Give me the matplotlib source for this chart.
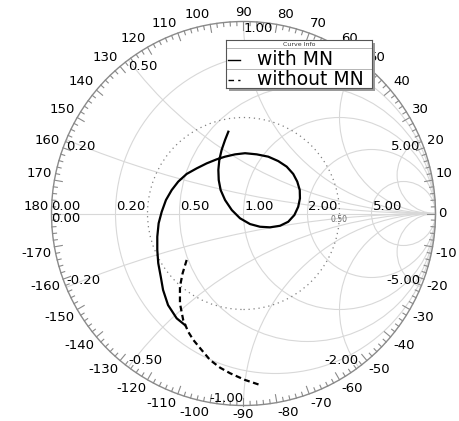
import numpy as np
import matplotlib.pyplot as plt
from matplotlib.patches import Circle, Rectangle

# reflection coefficient traces (real / imaginary part of Gamma)
with_mn_re = [-0.079, -0.096, -0.114, -0.126, -0.131, -0.129, -0.119, -0.096, -0.061, -0.018,
              0.034, 0.086, 0.138, 0.190, 0.233, 0.265, 0.285, 0.294, 0.293, 0.280,
              0.259, 0.225, 0.181, 0.129, 0.069, 0.008, -0.044, -0.096, -0.140, -0.192,
              -0.244, -0.296, -0.340, -0.374, -0.404, -0.426, -0.442, -0.449, -0.449, -0.444,
              -0.431, -0.419, -0.393, -0.348, -0.305]
with_mn_im = [0.426, 0.383, 0.331, 0.279, 0.227, 0.174, 0.122, 0.070, 0.018, -0.025,
              -0.055, -0.069, -0.072, -0.064, -0.043, -0.008, 0.035, 0.079, 0.122, 0.166,
              0.206, 0.244, 0.273, 0.296, 0.308, 0.314, 0.308, 0.296, 0.282, 0.261,
              0.235, 0.206, 0.166, 0.122, 0.070, 0.009, -0.051, -0.121, -0.190, -0.259,
              -0.329, -0.398, -0.477, -0.546, -0.581]
without_mn_re = [-0.296, -0.317, -0.331, -0.331, -0.314, -0.288, -0.261, -0.218, -0.174,
                 -0.122, -0.070, 0.008, 0.086]
without_mn_im = [-0.242, -0.311, -0.381, -0.468, -0.555, -0.616, -0.659, -0.711, -0.763,
                 -0.803, -0.832, -0.867, -0.893]

r_values = [0.2, 0.5, 1.0, 2.0, 5.0]
r_labels = ['0.20', '0.50', '1.00', '2.00', '5.00']
x_values = [0.2, 0.5, 1.0, 2.0, 5.0]
x_labels = [(0.2, '0.20', 'left', 'top'), (0.5, '0.50', 'left', 'top'),
            (1.0, '1.00', 'left', 'top'), (2.0, '2.00', 'right', 'top'),
            (5.0, '5.00', 'right', 'top'), (-0.2, '-0.20', 'left', 'bottom'),
            (-0.5, '-0.50', 'left', 'bottom'), (-1.0, '-1.00', 'right', 'bottom'),
            (-2.0, '-2.00', 'right', 'bottom'), (-5.0, '-5.00', 'right', 'bottom')]
angles = list(range(-170, 181, 10))
vswr_radius = 0.5

W, H = 460, 421
cx, cy, R = 243.5, 213.5, 192.0
px = 1 / R

fig = plt.figure(figsize=(W / 100, H / 100), dpi=100)
ax = fig.add_axes([0, 0, 1, 1])
ax.set_xlim(-cx / R, (W - cx) / R)
ax.set_ylim((cy - H) / R, cy / R)
ax.axis('off')

# chart grid
unit = Circle((0, 0), 1, fill=False, ec='none')
ax.add_patch(unit)
grid = dict(fill=False, ec='#d8d8d8', lw=0.8)
for r in r_values:
    ax.add_patch(Circle((r / (1 + r), 0), 1 / (1 + r), **grid))
for x in x_values:
    for s in (1, -1):
        c = Circle((1, s / x), 1 / x, **grid)
        ax.add_patch(c)
        c.set_clip_path(unit)
ax.plot([-1, 1], [0, 0], color='#d8d8d8', lw=0.8)

# constant |Gamma| circle
ax.add_patch(Circle((0, 0), vswr_radius, fill=False, ec='#808080', lw=0.9, ls=(0, (1, 3))))
ax.text(vswr_radius, -1 * px, '0.50', fontsize=5.5, color='#666666', ha='center', va='top')

# outer ring with degree ticks
ax.add_patch(Circle((0, 0), 1, fill=False, ec='#8a8a8a', lw=1.0))
for a in range(-180, 180, 2):
    L = 8 if a % 10 == 0 else 4
    t = np.radians(a)
    ax.plot([np.cos(t), (1 - L * px) * np.cos(t)], [np.sin(t), (1 - L * px) * np.sin(t)],
            color='#8a8a8a', lw=0.8)

for a in angles:
    t = np.radians(a)
    c, s = np.cos(t), np.sin(t)
    ha = 'center' if abs(c) < 0.05 else ('left' if c > 0 else 'right')
    if a == 0:
        va = 'center'
    else:
        va = 'bottom' if s >= -1e-9 else 'top'
    rr = 1 + 3 * px
    ax.text(rr * c, rr * s, str(a), fontsize=9.5, ha=ha, va=va)

# resistance labels
ax.text(-1, 1 * px, '0.00', fontsize=9.5, ha='left', va='bottom')
ax.text(-1, 2 * px, '0.00', fontsize=9.5, ha='left', va='top')
for r, lab in zip(r_values, r_labels):
    ax.text((r - 1) / (r + 1) + 1 * px, 1 * px, lab, fontsize=9.5, ha='left', va='bottom')

# reactance labels on the rim
for x, lab, ha, va in x_labels:
    g = (1j * x - 1) / (1j * x + 1)
    ax.text(g.real, g.imag, lab, fontsize=9.5, ha=ha, va=va)

# traces
ax.plot(with_mn_re, with_mn_im, color='black', lw=1.6, solid_joinstyle='round')
ax.plot(without_mn_re, without_mn_im, color='black', lw=1.6, dashes=(2.6, 1.6))

# legend box
lx, ly, lw_, lh = 226.5, 40, 146, 48
fig.patches.append(Rectangle(((lx + 3) / W, 1 - (ly + lh + 3) / H), lw_ / W, lh / H,
                             transform=fig.transFigure, fc='#9a9a9a', ec='none', zorder=5))
lax = fig.add_axes([lx / W, 1 - (ly + lh) / H, lw_ / W, lh / H], zorder=6)
lax.set_xlim(0, lw_)
lax.set_ylim(lh, 0)
lax.set_xticks([])
lax.set_yticks([])
lax.set_facecolor('white')
for sp in lax.spines.values():
    sp.set_color('#555555')
    sp.set_linewidth(0.8)
lax.text(lw_ / 2, 4, 'Curve Info', fontsize=4.5, ha='center', va='center', color='#333333')
lax.plot([0, lw_], [8, 8], color='#aaaaaa', lw=0.6)
lax.plot([0, lw_], [29, 29], color='#aaaaaa', lw=0.6)
lax.plot([2, 14], [19.5, 19.5], color='black', lw=1.0)
lax.plot([2, 14], [39.5, 39.5], color='black', lw=1.0, dashes=(4, 3))
lax.text(31, 19.5, 'with MN', fontsize=13.5, ha='left', va='center')
lax.text(31, 39.5, 'without MN', fontsize=13.5, ha='left', va='center')

fig.savefig('out.png', dpi=100)
